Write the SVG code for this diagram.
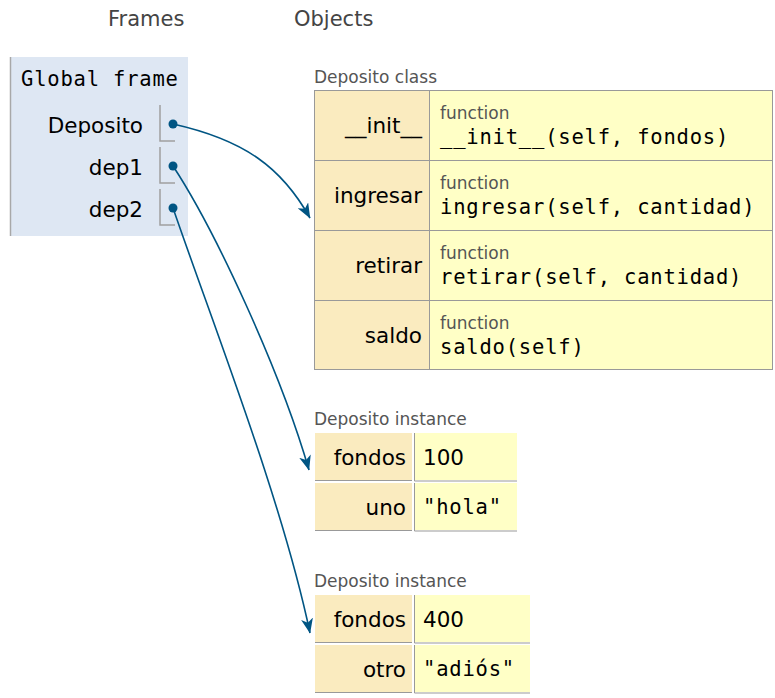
<svg xmlns="http://www.w3.org/2000/svg" width="775" height="698" viewBox="0 0 775 698">
<defs>
<marker id="ah" viewBox="0 0 15 12" refX="14.5" refY="6" markerWidth="15" markerHeight="12" markerUnits="userSpaceOnUse" orient="auto">
<path d="M0,0 L15,6 L0,12 L4,6 Z" fill="#005583"/>
</marker>
<style>
.hdr{font-family:"DejaVu Sans",Verdana,sans-serif;font-size:21px;fill:#444}
.sans{font-family:"DejaVu Sans",Verdana,sans-serif;font-size:21.5px;fill:#000}
.mono{font-family:"DejaVu Sans Mono","Liberation Mono",monospace;font-size:20.5px;letter-spacing:0.8px;fill:#000}
.lbl{font-family:"DejaVu Sans",Verdana,sans-serif;font-size:17px;fill:#555}
.key{fill:#faebbf}
.val{fill:#ffffc6}
.ln{stroke:#999;stroke-width:1;fill:none}
.cell{stroke:#a0a0a0;stroke-width:1.5;fill:none}
.conn{stroke:#005583;stroke-width:1.6;fill:none;marker-end:url(#ah)}
.dot{fill:#005583}
</style>
</defs>
<rect width="775" height="698" fill="#fff"/>
<text class="hdr" x="108" y="26">Frames</text>
<text class="hdr" x="294" y="26">Objects</text>

<g id="global-frame">
<rect x="10" y="57" width="178" height="179" fill="#dee7f3"/>
<line x1="10.5" y1="57" x2="10.5" y2="236" stroke="#a8a8a8" stroke-width="1.5"/>
<text class="mono" x="21" y="86">Global frame</text>
<text class="sans" x="143" y="133" text-anchor="end">Deposito</text>
<text class="sans" x="143" y="175" text-anchor="end">dep1</text>
<text class="sans" x="143" y="217" text-anchor="end">dep2</text>
<path class="cell" d="M160,105 V141 H175"/>
<path class="cell" d="M160,147 V183 H175"/>
<path class="cell" d="M160,189 V225 H175"/>
<circle class="dot" cx="173" cy="124" r="4.5"/>
<circle class="dot" cx="173" cy="166" r="4.5"/>
<circle class="dot" cx="173" cy="208" r="4.5"/>
</g>

<g id="deposito-class">
<text class="lbl" x="314" y="83">Deposito class</text>
<rect class="key" x="314" y="90" width="115" height="280"/>
<rect class="val" x="429" y="90" width="344" height="280"/>
<rect class="ln" x="314.5" y="90.5" width="458" height="279"/>
<line class="ln" x1="429.5" y1="90" x2="429.5" y2="370"/>
<line class="ln" x1="314" y1="160.5" x2="773" y2="160.5"/>
<line class="ln" x1="314" y1="230.5" x2="773" y2="230.5"/>
<line class="ln" x1="314" y1="300.5" x2="773" y2="300.5"/>
<text class="sans" x="422" y="133" text-anchor="end">__init__</text>
<text class="lbl" x="440" y="119">function</text>
<text class="mono" x="440" y="144">__init__(self, fondos)</text>
<text class="sans" x="422" y="203" text-anchor="end">ingresar</text>
<text class="lbl" x="440" y="189">function</text>
<text class="mono" x="440" y="214">ingresar(self, cantidad)</text>
<text class="sans" x="422" y="273" text-anchor="end">retirar</text>
<text class="lbl" x="440" y="259">function</text>
<text class="mono" x="440" y="284">retirar(self, cantidad)</text>
<text class="sans" x="422" y="343" text-anchor="end">saldo</text>
<text class="lbl" x="440" y="329">function</text>
<text class="mono" x="440" y="354">saldo(self)</text>
</g>

<g id="dep1-instance">
<text class="lbl" x="314" y="425">Deposito instance</text>
<rect class="key" x="315" y="433" width="97" height="47"/>
<rect class="val" x="415" y="433" width="102" height="47"/>
<rect class="key" x="315" y="483" width="97" height="47"/>
<rect class="val" x="415" y="483" width="102" height="47"/>
<path class="ln" d="M315,480.5 H412 M414.5,433 V481 H517 M315,530.5 H412 M414.5,483 V531 H517"/>
<text class="sans" x="406" y="465" text-anchor="end">fondos</text>
<text class="sans" x="423" y="465">100</text>
<text class="sans" x="406" y="515" text-anchor="end">uno</text>
<text class="mono" x="423" y="514">"hola"</text>
</g>

<g id="dep2-instance">
<text class="lbl" x="314" y="587">Deposito instance</text>
<rect class="key" x="315" y="595" width="97" height="47"/>
<rect class="val" x="415" y="595" width="115" height="47"/>
<rect class="key" x="315" y="645" width="97" height="47"/>
<rect class="val" x="415" y="645" width="115" height="47"/>
<path class="ln" d="M315,642.5 H412 M414.5,595 V643 H530 M315,692.5 H412 M414.5,645 V693 H530"/>
<text class="sans" x="406" y="627" text-anchor="end">fondos</text>
<text class="sans" x="423" y="627">400</text>
<text class="sans" x="406" y="677" text-anchor="end">otro</text>
<text class="mono" x="423" y="676">"adiós"</text>
</g>

<g id="connectors">
<path class="conn" d="M173,124 C245,140 282,168 310,218"/>
<path class="conn" d="M173,166 C215,230 280,370 309,470"/>
<path class="conn" d="M173,208 C215,330 282,500 310,633"/>
</g>
</svg>
